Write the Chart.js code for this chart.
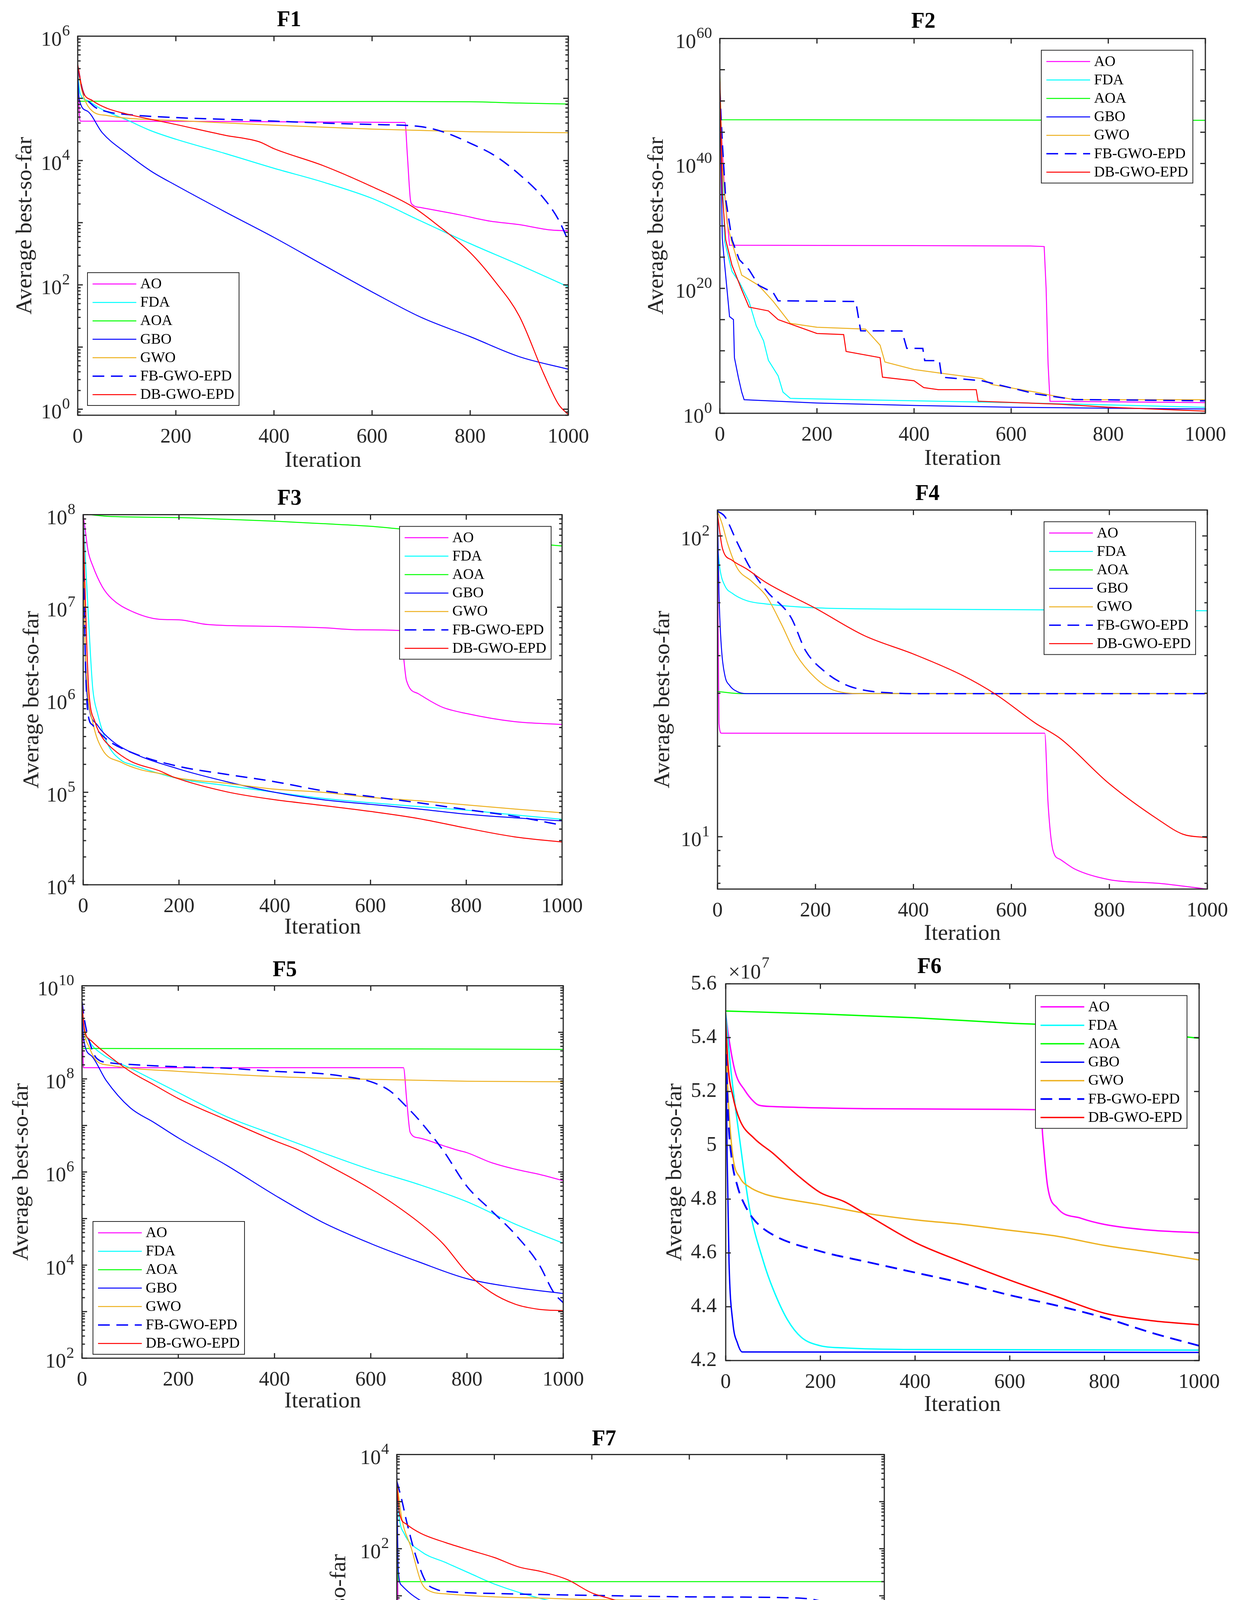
<!DOCTYPE html>
<html>
<head>
<meta charset="utf-8">
<script src="https://cdn.jsdelivr.net/npm/chart.js@4.4.1/dist/chart.umd.min.js"></script>
<style>
  html, body { margin: 0; padding: 0; background: #fff; }
  body { position: relative; width: 3167px; height: 4855px; overflow: hidden; }
  canvas { position: absolute; }
</style>
</head>
<body>
<script>
// series names, same order in every panel
var SERIES = ['AO', 'FDA', 'AOA', 'GBO', 'GWO', 'FB-GWO-EPD', 'DB-GWO-EPD'];
var X_TICKS = [0, 200, 400, 600, 800, 1000];

// F1 : [iteration, average best-so-far]
var F1_AO  = [[0,2.6e5],[3,6e4],[5,4.3e4],[300,4.25e4],[500,4.15e4],[667,4.1e4],[672,1.2e4],[678,2.4e3],[682,1.96e3],[700,1.75e3],[780,1.33e3],[840,1.06e3],[900,930],[960,770],[1000,740]];
var F1_FDA = [[0,2.4e5],[5,1.2e5],[20,9.2e4],[50,6.6e4],[100,4.5e4],[150,3.0e4],[200,2.2e4],[300,1.3e4],[400,7.5e3],[500,4.5e3],[600,2.46e3],[700,1.06e3],[800,460],[900,210],[1000,93]];
var F1_AOA = [[0,1.6e5],[4,9.0e4],[200,8.95e4],[400,8.95e4],[600,8.9e4],[800,8.8e4],[900,8.4e4],[1000,8.1e4]];
var F1_GBO = [[0,2.6e5],[3,9.7e4],[20,6.2e4],[50,2.8e4],[100,1.3e4],[150,6.7e3],[200,4.0e3],[300,1.5e3],[400,580],[500,210],[600,77],[700,30],[800,14.7],[900,7.0],[1000,4.4]];
var F1_GWO = [[0,3e5],[10,1.2e5],[30,6.2e4],[60,5.3e4],[100,4.8e4],[200,4.4e4],[400,3.7e4],[600,3.2e4],[800,2.9e4],[1000,2.8e4]];
var F1_FB  = [[0,3.3e5],[10,1.35e5],[30,7.8e4],[60,6.1e4],[100,5.5e4],[200,4.9e4],[300,4.6e4],[400,4.3e4],[500,4.0e4],[600,3.8e4],[700,3.5e4],[750,2.8e4],[800,1.9e4],[850,1.2e4],[900,6.0e3],[950,2.46e3],[980,1.12e3],[1000,510]];
var F1_DB  = [[0,3.5e5],[10,1.35e5],[30,9.2e4],[60,6.9e4],[100,5.6e4],[200,3.8e4],[300,2.55e4],[370,2.0e4],[400,1.55e4],[500,8.3e3],[600,3.8e3],[680,1.86e3],[730,960],[800,330],[850,115],[900,31.5],[950,3.7],[980,1.2],[1000,0.82]];

// F2
var F2_AO  = [[0,1e50],[10,1e35],[20,8e26],[400,7e26],[640,6e26],[668,5e26],[672,1e20],[676,1e8],[680,85],[1000,50]];
var F2_FDA = [[0,1e50],[10,3e27],[25,5e22],[40,1e21],[60,8e17],[75,1e14],[90,4e11],[100,3e8],[120,1e6],[130,2.5e3],[145,250],[200,200],[400,100],[600,50],[800,22],[1000,9]];
var F2_AOA = [[0,4e53],[2,1e47],[1000,8e46]];
var F2_GBO = [[0,1e52],[5,1e28],[10,5e23],[20,3e15],[28,1e15],[30,8e8],[38,6e5],[45,2.5e3],[50,150],[200,44],[400,18],[600,9.3],[800,6.6],[1000,4.8]];
var F2_GWO = [[0,8e53],[5,4e39],[15,2.5e30],[25,2e27],[45,1.3e22],[80,3e20],[110,8e17],[145,2.5e14],[200,6e13],[300,3e13],[330,8e10],[340,1.6e8],[400,1e7],[450,3e6],[540,3.6e5],[560,4e4],[650,2.5e3],[680,800],[730,150],[1000,150]];
var F2_FB  = [[0,5e51],[5,3e43],[12,2e34],[25,6e27],[40,4e24],[60,1e23],[80,3e20],[110,2e19],[120,1e18],[280,8e17],[290,1.6e13],[375,1.5e13],[385,2.5e10],[418,2.4e10],[422,2.8e8],[452,2.6e8],[457,6e5],[540,1.6e5],[650,1.3e3],[730,160],[1000,100]];
var F2_DB  = [[0,1.3e53],[5,2e35],[12,6e27],[25,5e23],[45,6e19],[60,1e17],[100,2.5e16],[120,1e15],[200,6e12],[255,4e12],[260,8e9],[330,8e8],[335,6e5],[400,1.6e5],[420,1.3e4],[450,6e3],[528,6e3],[532,85],[700,28],[800,9.3],[1000,2.2]];

// F3
var F3_AO  = [[0,1e8],[5,6.4e7],[10,4.1e7],[20,2.8e7],[40,1.66e7],[60,1.23e7],[100,9.1e6],[160,7.4e6],[200,7.3e6],[260,6.5e6],[400,6.2e6],[500,6.0e6],[580,5.7e6],[660,5.6e6],[668,3.2e6],[675,1.62e6],[700,1.16e6],[750,8.3e5],[800,7.1e5],[900,5.8e5],[1000,5.4e5]];
var F3_FDA = [[0,1e8],[5,3.0e7],[10,9.8e6],[15,3.2e6],[20,1.31e6],[30,7.1e5],[50,3.4e5],[80,2.2e5],[100,2.0e5],[200,1.4e5],[300,1.18e5],[400,1.0e5],[500,8.6e4],[600,7.7e4],[700,7.0e4],[800,6.4e4],[900,5.7e4],[1000,5.1e4]];
var F3_AOA = [[0,1.02e8],[50,9.6e7],[200,9.3e7],[300,8.9e7],[400,8.5e7],[500,8.0e7],[600,7.5e7],[700,6.7e7],[800,6.0e7],[900,5.1e7],[1000,4.6e7]];
var F3_GBO = [[0,1e8],[2,1.43e7],[5,2.2e6],[10,9.6e5],[30,5.3e5],[60,3.6e5],[100,2.7e5],[200,1.78e5],[300,1.3e5],[400,1.0e5],[500,8.3e4],[600,7.4e4],[700,6.6e4],[800,5.8e4],[900,5.3e4],[1000,4.9e4]];
var F3_GWO = [[0,1e8],[3,6.7e6],[8,1.5e6],[20,5.7e5],[40,2.9e5],[80,2.1e5],[120,1.75e5],[170,1.56e5],[190,1.45e5],[300,1.25e5],[400,1.08e5],[500,1.0e5],[600,8.8e4],[700,8.1e4],[800,7.3e4],[900,6.6e4],[1000,6.0e4]];
var F3_FB  = [[0,1e8],[2,1.4e7],[5,2.2e6],[10,7.1e5],[20,5.3e5],[50,3.7e5],[100,2.7e5],[200,1.9e5],[300,1.56e5],[400,1.3e5],[500,1.04e5],[600,9.0e4],[700,7.7e4],[800,6.5e4],[900,5.5e4],[1000,4.4e4]];
var F3_DB  = [[0,1e8],[3,2.1e7],[8,3.2e6],[12,1.2e6],[25,5.7e5],[40,3.9e5],[60,3.0e5],[100,2.15e5],[160,1.7e5],[190,1.45e5],[300,1.01e5],[400,8.3e4],[500,7.2e4],[600,6.2e4],[700,5.2e4],[800,4.1e4],[900,3.3e4],[1000,2.9e4]];

// F4
var F4_AO  = [[0,102],[3,23.8],[8,22.1],[668,22.1],[675,12.8],[685,9.0],[700,8.4],[730,7.8],[800,7.2],[900,7.0],[1000,6.7]];
var F4_FDA = [[0,93],[5,77.6],[15,68.3],[30,64.5],[60,60.9],[100,59.4],[200,57.7],[400,57.1],[600,56.9],[1000,56.4]];
var F4_AOA = [[0,30.4],[50,29.9],[1000,29.9]];
var F4_GBO = [[0,121],[3,64.5],[8,42.4],[15,34.4],[25,31.8],[40,30.4],[60,29.9],[1000,29.9]];
var F4_GWO = [[0,121],[10,109],[20,95],[40,78.3],[70,70.6],[100,63],[130,51.1],[160,40.5],[200,33.7],[240,30.6],[300,29.9],[1000,29.9]];
var F4_FB  = [[0,121],[15,116],[40,95.3],[65,79.2],[100,65.7],[150,53.6],[180,41.5],[220,35.3],[260,32.1],[300,30.7],[350,30.1],[400,29.9],[1000,29.9]];
var F4_DB  = [[0,118],[10,91],[30,83],[60,77.6],[100,69.9],[200,57.5],[300,46.6],[400,40.5],[500,34.4],[570,29.6],[650,23.8],[700,21.2],[800,15.0],[900,11.4],[950,10.2],[1000,9.93]];

// F5
var F5_AO  = [[0,3.9e9],[3,1.74e8],[668,1.74e8],[675,3.2e7],[682,7.1e6],[700,5.4e6],[750,3.7e6],[780,2.95e6],[800,2.6e6],[850,1.6e6],[900,1.15e6],[950,8.9e5],[1000,6.5e5]];
var F5_FDA = [[0,3.9e9],[5,1.17e9],[15,6.5e8],[40,3.5e8],[100,1.7e8],[200,5.1e7],[300,1.55e7],[400,6.3e6],[500,2.6e6],[600,1.12e6],[700,5.4e5],[800,2.3e5],[900,7.6e4],[1000,2.95e4]];
var F5_AOA = [[0,4.5e8],[700,4.4e8],[1000,4.3e8]];
var F5_GBO = [[0,3.9e9],[3,7.6e8],[20,3.1e8],[50,9.3e7],[100,2.4e7],[150,1.15e7],[200,5.4e6],[300,1.4e6],[400,3.2e5],[500,8.3e4],[600,2.9e4],[700,1.17e4],[800,5.1e3],[900,3.3e3],[1000,2.45e3]];
var F5_GWO = [[0,3.9e9],[5,1.02e9],[15,4.8e8],[30,2.45e8],[60,1.95e8],[100,1.7e8],[200,1.45e8],[400,1.12e8],[600,9.8e7],[800,8.9e7],[1000,8.7e7]];
var F5_FB  = [[0,4.5e9],[5,1.86e9],[15,6.5e8],[30,2.8e8],[60,2.2e8],[100,2.04e8],[200,1.82e8],[300,1.7e8],[400,1.45e8],[500,1.29e8],[540,1.15e8],[600,8.7e7],[640,5.5e7],[670,2.8e7],[700,1.32e7],[750,2.95e6],[800,4.9e5],[850,1.5e5],[900,4.6e4],[950,1.02e4],[980,2.6e3],[1000,1.55e3]];
var F5_DB  = [[0,3.9e9],[5,1.17e9],[20,6.5e8],[50,3.5e8],[100,1.45e8],[150,7.4e7],[200,3.8e7],[300,1.32e7],[400,4.7e6],[450,2.95e6],[500,1.6e6],[600,4.3e5],[700,8.3e4],[750,2.9e4],[800,6.9e3],[850,2.6e3],[900,1.45e3],[950,1.12e3],[1000,1.05e3]];

// F6 (values in units of 10^7)
var F6_AO  = [[0,5.49],[5,5.418],[20,5.273],[40,5.205],[60,5.161],[70,5.149],[100,5.144],[300,5.136],[500,5.134],[665,5.132],[670,5.026],[680,4.847],[700,4.768],[750,4.729],[800,4.706],[900,4.684],[1000,4.675]];
var F6_FDA = [[0,5.49],[10,5.295],[30,5.015],[50,4.768],[80,4.566],[100,4.466],[130,4.353],[160,4.286],[200,4.255],[250,4.247],[400,4.241],[1000,4.239]];
var F6_AOA = [[0,5.499],[200,5.488],[400,5.474],[600,5.454],[700,5.446],[850,5.425],[1000,5.398]];
var F6_GBO = [[0,5.474],[3,4.96],[7,4.566],[15,4.342],[25,4.264],[35,4.232],[1000,4.23]];
var F6_GWO = [[0,5.407],[5,5.183],[15,4.96],[30,4.88],[50,4.845],[80,4.82],[100,4.81],[200,4.779],[300,4.746],[400,4.723],[500,4.706],[600,4.684],[700,4.662],[800,4.628],[900,4.602],[1000,4.574]];
var F6_FB  = [[0,5.407],[5,5.116],[12,4.959],[25,4.847],[40,4.779],[60,4.723],[100,4.667],[200,4.606],[300,4.566],[400,4.527],[500,4.488],[600,4.443],[700,4.404],[800,4.359],[900,4.303],[1000,4.255]];
var F6_DB  = [[0,5.463],[5,5.295],[15,5.183],[30,5.093],[60,5.026],[100,4.970],[150,4.891],[200,4.824],[250,4.791],[300,4.740],[400,4.639],[500,4.566],[600,4.499],[700,4.437],[800,4.376],[900,4.348],[1000,4.333]];
var F6_TICKS = [4.2, 4.4, 4.6, 4.8, 5, 5.2, 5.4, 5.6];

// F7
var F7_AO  = [[0,2.3e3],[3,3.2],[10,2.5],[668,2.5],[670,0.4],[675,0.02],[680,0.011],[700,5.1e-3],[720,2.6e-3],[750,1.55e-3],[800,1.26e-3],[850,1e-3],[900,6.9e-4],[950,5.1e-4],[1000,4.2e-4]];
var F7_FDA = [[0,2e3],[5,450],[15,210],[50,87],[100,51],[150,30],[200,17.8],[300,8.5],[400,5.4],[500,4.0],[600,3.2],[700,2.6],[800,2.3],[900,2.0],[1000,1.8]];
var F7_AOA = [[0,2.3e3],[3,20],[1000,20]];
var F7_GBO = [[0,3.5e3],[3,35],[10,16.6],[30,10.7],[60,6.8],[100,4.4],[150,2.6],[200,1.9],[300,1.4],[400,1.05],[500,0.87],[600,0.76],[700,0.66],[800,0.6],[1000,0.54]];
var F7_GWO = [[0,2.7e3],[10,450],[30,100],[50,19.5],[70,12.3],[100,11],[200,9.5],[300,8.9],[400,8.3],[500,8.1],[600,7.9],[800,7.8],[1000,7.6]];
var F7_FB  = [[0,2.7e3],[10,1.1e3],[20,380],[40,65],[60,19.5],[80,13.8],[120,12],[200,11.2],[400,10.2],[600,9.5],[800,9.1],[850,8.5],[880,7.2],[920,5.0],[960,2.95],[1000,2.1]];
var F7_DB  = [[0,2.5e3],[5,600],[20,330],[50,210],[100,135],[150,93],[200,65],[250,41],[300,32],[350,22],[400,11.5],[450,7.9],[500,4.7],[550,2.4],[600,1.48],[650,0.89],[700,0.54],[750,0.4],[800,0.3],[850,0.275],[900,0.257],[1000,0.234]];

var INK = '#262626';
var FONT = 'Liberation Serif';
var COLORS = ['#ff00ff', '#00ffff', '#00ff00', '#0000ff', '#edb120', '#0000ff', '#ff0000'];

// tick marks for the log axes (every `step` decades, optional 2..9 minors)
function logTicks(lo, hi, minE, maxE, step, minors) {
    var t = [];
    for (var e = minE - 1; e <= maxE; e += step) {
        t.push({ v: Math.pow(10, e), major: true });
        if (minors) {
            for (var d = 2; d <= 9; d++) t.push({ v: d * Math.pow(10, e), major: false });
        }
    }
    return t.filter(function (k) { return k.v >= lo * 0.9999 && k.v <= hi * 1.0001; });
}

// MATLAB-like box: inward ticks on all four sides, y labels, legend inside the axes
var frame = {
    id: 'frame',
    afterDraw: function (chart) {
        var s = chart.canvas.spec;
        var ctx = chart.ctx, a = chart.chartArea;
        var x = chart.scales.x, y = chart.scales.y;
        ctx.save();
        ctx.strokeStyle = INK;
        ctx.lineWidth = 3;
        ctx.strokeRect(a.left, a.top, a.right - a.left, a.bottom - a.top);
        ctx.beginPath();
        X_TICKS.forEach(function (v) {
            var px = x.getPixelForValue(v);
            ctx.moveTo(px, a.bottom); ctx.lineTo(px, a.bottom - 13);
            ctx.moveTo(px, a.top); ctx.lineTo(px, a.top + 13);
        });
        s.yTicks.forEach(function (t) {
            var py = y.getPixelForValue(t.v);
            var len = t.major ? 13 : 7.5;
            ctx.moveTo(a.left, py); ctx.lineTo(a.left + len, py);
            ctx.moveTo(a.right, py); ctx.lineTo(a.right - len, py);
        });
        ctx.stroke();

        // y tick labels
        ctx.fillStyle = INK;
        ctx.textBaseline = 'middle';
        if (s.log) {
            s.yLabels.forEach(function (e) {
                var py = y.getPixelForValue(Math.pow(10, e));
                var right = a.left - 20;
                ctx.font = '40px "' + FONT + '"';
                var es = String(e);
                var we = ctx.measureText(es).width;
                ctx.textAlign = 'left';
                ctx.fillText(es, right - we, py - 12);
                ctx.font = '53px "' + FONT + '"';
                ctx.textAlign = 'right';
                ctx.fillText('10', right - we - 1, py + 10);
            });
        } else {
            ctx.font = '53px "' + FONT + '"';
            ctx.textAlign = 'right';
            s.yLabels.forEach(function (v) {
                ctx.fillText(String(v), a.left - 23, y.getPixelForValue(v));
            });
            if (s.expo) {
                ctx.textAlign = 'left';
                ctx.fillText('\u00d710', a.left + 7, a.top - 28);
                var w10 = ctx.measureText('\u00d710').width;
                ctx.font = '40px "' + FONT + '"';
                ctx.fillText(s.expo, a.left + 9 + w10, a.top - 52);
            }
        }

        // legend box
        var lg = s.legend, bw = 388, bh = 340;
        var bx = lg.corner === 'bl' ? a.left + lg.dx : a.right - lg.dx - bw;
        var by = lg.corner === 'bl' ? a.bottom - lg.dy - bh : a.top + lg.dy;
        ctx.fillStyle = '#fff';
        ctx.fillRect(bx, by, bw, bh);
        ctx.lineWidth = 2;
        ctx.strokeStyle = INK;
        ctx.strokeRect(bx, by, bw, bh);
        ctx.font = '38px "' + FONT + '"';
        ctx.textAlign = 'left';
        chart.data.datasets.forEach(function (ds, i) {
            var ry = by + 29 + i * 47.2;
            ctx.strokeStyle = ds.borderColor;
            ctx.lineWidth = ds.borderWidth;
            ctx.setLineDash(ds.borderDash || []);
            ctx.beginPath();
            ctx.moveTo(bx + 13, ry); ctx.lineTo(bx + 125, ry);
            ctx.stroke();
            ctx.setLineDash([]);
            ctx.fillStyle = '#000';
            ctx.fillText(ds.label, bx + 135, ry + 1);
        });
        ctx.restore();
    }
};

function makeChart(s) {
    var L = s.rect[0], T = s.rect[1], R = s.rect[2], B = s.rect[3];
    var axisW = s.yGap + 37;
    var pb = s.titleGap - 33.6;
    var block = 10 + 67.2 + pb;
    var xH = s.xGap + 45;
    var w = Math.round(axisW * 2 + (R - L));
    var h = Math.round(block + (B - T) + xH);
    var cv = document.createElement('canvas');
    cv.width = w; cv.height = h;
    cv.style.left = (L - axisW) + 'px';
    cv.style.top = (T - block) + 'px';
    cv.style.width = w + 'px';
    cv.style.height = h + 'px';
    cv.spec = s;
    document.body.appendChild(cv);

    var datasets = s.series.map(function (arr, i) {
        return {
            label: SERIES[i],
            data: arr.map(function (p) { return { x: p[0], y: p[1] }; }),
            borderColor: COLORS[i],
            borderWidth: i === 5 ? s.lw + 1 : s.lw,
            borderDash: i === 5 ? [30, 17] : [],
            pointRadius: 0,
            fill: false,
            order: 6 - i,
            cubicInterpolationMode: s.smooth ? 'monotone' : 'default',
            tension: 0
        };
    });

    new Chart(cv, {
        type: 'line',
        data: { datasets: datasets },
        options: {
            responsive: false,
            animation: false,
            devicePixelRatio: 1,
            layout: { padding: { left: 0, right: axisW, top: 0, bottom: 0 } },
            plugins: {
                legend: { display: false },
                tooltip: { enabled: false },
                title: {
                    display: true, text: s.title, color: '#000',
                    font: { family: FONT, size: 56, weight: 'bold' },
                    padding: { top: 10, bottom: pb }
                }
            },
            scales: {
                x: {
                    type: 'linear', min: 0, max: 1000,
                    grid: { display: false, drawTicks: false },
                    border: { display: false },
                    ticks: {
                        stepSize: 200, maxRotation: 0, autoSkip: false, padding: 24,
                        color: INK, font: { family: FONT, size: 53 },
                        callback: function (v) { return String(v); }
                    },
                    title: {
                        display: true, text: 'Iteration', color: INK,
                        font: { family: FONT, size: 58 },
                        padding: { top: 0, bottom: 10 }
                    },
                    afterFit: function (sc) { sc.height = xH; }
                },
                y: {
                    type: s.log ? 'logarithmic' : 'linear',
                    min: s.min, max: s.max,
                    grid: { display: false, drawTicks: false },
                    border: { display: false },
                    ticks: { display: false },
                    title: {
                        display: true, text: 'Average best-so-far', color: INK,
                        font: { family: FONT, size: 58 },
                        padding: { top: 5, bottom: 0 }
                    },
                    afterFit: function (sc) { sc.width = axisW; }
                }
            }
        },
        plugins: [frame]
    });
}

var PANELS = [
    { title: 'F1', rect: [199, 93, 1455, 1063], yGap: 137, titleGap: 40, xGap: 117, log: true, min: 0.8, max: 1e6,
      yTicks: logTicks(0.8, 1e6, 0, 6, 1, true), yLabels: [0, 2, 4, 6], legend: { corner: 'bl', dx: 25, dy: 25 },
      lw: 2.5, smooth: true, series: [F1_AO, F1_FDA, F1_AOA, F1_GBO, F1_GWO, F1_FB, F1_DB] },
    { title: 'F2', rect: [1843, 99, 3086, 1058], yGap: 164, titleGap: 42, xGap: 117, log: true, min: 1, max: 1e60,
      yTicks: logTicks(1, 1e60, 1, 60, 5, false), yLabels: [0, 20, 40, 60], legend: { corner: 'tr', dx: 32, dy: 30 },
      lw: 2.5, smooth: false, series: [F2_AO, F2_FDA, F2_AOA, F2_GBO, F2_GWO, F2_FB, F2_DB] },
    { title: 'F3', rect: [213, 1318, 1439, 2265], yGap: 133, titleGap: 40, xGap: 110, log: true, min: 1e4, max: 1e8,
      yTicks: logTicks(1e4, 1e8, 4, 8, 1, true), yLabels: [4, 5, 6, 7, 8], legend: { corner: 'tr', dx: 28, dy: 30 },
      lw: 2.5, smooth: true, series: [F3_AO, F3_FDA, F3_AOA, F3_GBO, F3_GWO, F3_FB, F3_DB] },
    { title: 'F4', rect: [1837, 1306, 3091, 2276], yGap: 142, titleGap: 40, xGap: 115, log: true, min: 6.7, max: 122,
      yTicks: logTicks(6.7, 122, 1, 2, 1, true), yLabels: [1, 2], legend: { corner: 'tr', dx: 30, dy: 30 },
      lw: 2.5, smooth: true, series: [F4_AO, F4_FDA, F4_AOA, F4_GBO, F4_GWO, F4_FB, F4_DB] },
    { title: 'F5', rect: [210, 2524, 1442, 3477], yGap: 157, titleGap: 39, xGap: 111, log: true, min: 1e2, max: 1e10,
      yTicks: logTicks(1e2, 1e10, 2, 10, 1, true), yLabels: [2, 4, 6, 8, 10], legend: { corner: 'bl', dx: 28, dy: 10 },
      lw: 2.5, smooth: true, series: [F5_AO, F5_FDA, F5_AOA, F5_GBO, F5_GWO, F5_FB, F5_DB] },
    { title: 'F6', rect: [1858, 2519, 3070, 3483], yGap: 132, titleGap: 42, xGap: 114, log: false, min: 4.2, max: 5.6,
      yTicks: F6_TICKS.map(function (v) { return { v: v, major: true }; }), yLabels: F6_TICKS, expo: '7',
      legend: { corner: 'tr', dx: 31, dy: 30 },
      lw: 3.5, smooth: true, series: [F6_AO, F6_FDA, F6_AOA, F6_GBO, F6_GWO, F6_FB, F6_DB] },
    { title: 'F7', rect: [1016, 3724, 2264, 4688], yGap: 150, titleGap: 38, xGap: 112, log: true, min: 1e-4, max: 1e4,
      yTicks: logTicks(1e-4, 1e4, -4, 4, 1, true), yLabels: [-4, -2, 0, 2, 4], legend: { corner: 'bl', dx: 28, dy: 26 },
      lw: 2.5, smooth: true, series: [F7_AO, F7_FDA, F7_AOA, F7_GBO, F7_GWO, F7_FB, F7_DB] }
];

PANELS.forEach(makeChart);
</script>
</body>
</html>
